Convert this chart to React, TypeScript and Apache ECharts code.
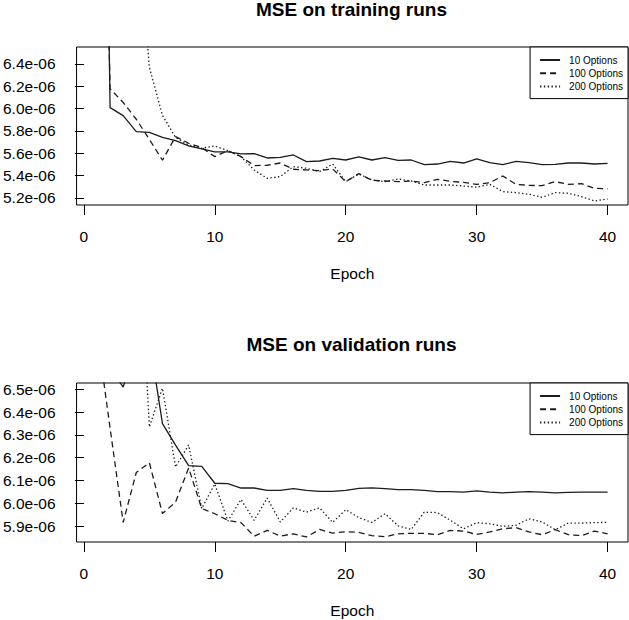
import React, { useEffect, useRef } from 'react';
import * as echarts from 'echarts';

// Epoch numbers (x values)
const epochs = [
  1, 2, 3, 4, 5, 6, 7, 8, 9, 10, 11, 12, 13, 14, 15, 16, 17, 18, 19, 20,
  21, 22, 23, 24, 25, 26, 27, 28, 29, 30, 31, 32, 33, 34, 35, 36, 37, 38, 39, 40,
];

const seriesNames = ['10 Options', '100 Options', '200 Options'];
const trainTitle = 'MSE on training runs';
const validTitle = 'MSE on validation runs';
const xName = 'Epoch';

// tick values (y in units of 1e-6)
const xTicks = [0, 10, 20, 30, 40];
const trainYTicks = [5.2, 5.4, 5.6, 5.8, 6.0, 6.2, 6.4];
const validYTicks = [5.9, 6.0, 6.1, 6.2, 6.3, 6.4, 6.5];

// MSE on training runs (units of 1e-6)
const train10 = [
  14.0, 6.009, 5.937, 5.794, 5.788, 5.743, 5.713, 5.666, 5.639, 5.612,
  5.612, 5.594, 5.597, 5.558, 5.564, 5.585, 5.525, 5.531, 5.555, 5.540,
  5.567, 5.540, 5.561, 5.537, 5.540, 5.499, 5.504, 5.528, 5.513, 5.549,
  5.516, 5.499, 5.528, 5.516, 5.499, 5.501, 5.513, 5.513, 5.504, 5.510,
];
const train100 = [
  11.5, 6.178, 6.055, 5.905, 5.725, 5.538, 5.750, 5.690, 5.651, 5.570,
  5.624, 5.570, 5.490, 5.493, 5.513, 5.457, 5.451, 5.445, 5.460, 5.346,
  5.418, 5.358, 5.352, 5.346, 5.352, 5.337, 5.367, 5.349, 5.340, 5.322,
  5.337, 5.397, 5.322, 5.313, 5.310, 5.346, 5.322, 5.328, 5.287, 5.281,
];
const train200 = [
  20.0, 15.0, 10.0, 7.87, 6.37, 5.940, 5.742, 5.675, 5.645, 5.666,
  5.624, 5.570, 5.451, 5.376, 5.391, 5.481, 5.466, 5.436, 5.504, 5.346,
  5.415, 5.361, 5.346, 5.370, 5.352, 5.316, 5.316, 5.316, 5.307, 5.296,
  5.322, 5.257, 5.248, 5.233, 5.206, 5.248, 5.242, 5.212, 5.173, 5.191,
];

// MSE on validation runs (units of 1e-6)
const valid10 = [
  7.20, 6.596, 6.510, 6.700, 6.720, 6.350, 6.255, 6.165, 6.162, 6.088,
  6.086, 6.067, 6.067, 6.057, 6.057, 6.064, 6.057, 6.052, 6.052, 6.057,
  6.065, 6.068, 6.064, 6.060, 6.060, 6.057, 6.051, 6.051, 6.049, 6.054,
  6.049, 6.046, 6.049, 6.051, 6.049, 6.046, 6.048, 6.049, 6.049, 6.049,
];
const valid100 = [
  6.750, 6.330, 5.916, 6.135, 6.178, 5.955, 6.005, 6.155, 5.977, 5.954,
  5.925, 5.915, 5.855, 5.881, 5.856, 5.866, 5.852, 5.885, 5.869, 5.875,
  5.872, 5.858, 5.853, 5.866, 5.868, 5.868, 5.862, 5.881, 5.878, 5.863,
  5.874, 5.888, 5.893, 5.874, 5.862, 5.884, 5.862, 5.858, 5.878, 5.866,
];
const valid200 = [
  8.50, 8.00, 7.80, 7.40, 6.335, 6.505, 6.159, 6.256, 5.977, 6.085,
  5.922, 6.017, 5.925, 6.023, 5.918, 5.980, 5.961, 5.980, 5.916, 5.972,
  5.937, 5.916, 5.954, 5.901, 5.885, 5.961, 5.959, 5.925, 5.888, 5.915,
  5.910, 5.899, 5.903, 5.932, 5.918, 5.884, 5.913, 5.913, 5.915, 5.916,
];

const FONT = 'Liberation Sans, Arial, Helvetica, sans-serif';
const LINE_COLOR = '#1c1c1c';
const lineTypes: any[] = ['solid', [6, 4], [1.4, 2.4]];

function pairs(vals: number[]) {
  return epochs.map((e, i) => [e, vals[i]]);
}

function makeXAxis(gridIndex: number) {
  return {
    gridIndex,
    type: 'value',
    min: -0.56,
    max: 41.56,
    axisLine: { show: false },
    splitLine: { show: false },
    axisTick: {
      show: true,
      customValues: xTicks,
      length: 10,
      lineStyle: { color: '#000', width: 1 },
    },
    axisLabel: {
      customValues: xTicks,
      margin: 23,
      fontSize: 15.5,
      color: '#000',
      fontFamily: FONT,
    },
    name: xName,
    nameLocation: 'middle',
    nameGap: 60,
    nameTextStyle: { fontSize: 15.5, color: '#000', fontFamily: FONT },
  };
}

function makeYAxis(gridIndex: number, min: number, max: number, ticks: number[]) {
  return {
    gridIndex,
    type: 'value',
    min,
    max,
    axisLine: { show: false },
    splitLine: { show: false },
    axisTick: {
      show: true,
      customValues: ticks,
      length: 9,
      lineStyle: { color: '#000', width: 1 },
    },
    axisLabel: {
      customValues: ticks,
      margin: 21,
      fontSize: 15.5,
      color: '#000',
      fontFamily: FONT,
      formatter: (v: number) => v.toFixed(1) + 'e-06',
    },
  };
}

function makeLegend(top: number) {
  return {
    data: seriesNames,
    orient: 'vertical',
    right: 1,
    top,
    padding: [8, 5, 7, 9],
    itemWidth: 20,
    itemHeight: 10,
    itemGap: 3.3,
    borderColor: '#000',
    borderWidth: 1,
    borderRadius: 0,
    backgroundColor: '#fff',
    selectedMode: false,
    itemStyle: {
      color: 'rgba(0,0,0,0)',
      borderColor: 'rgba(0,0,0,0)',
      borderWidth: 0,
      opacity: 0,
    },
    textStyle: { fontSize: 10, color: '#000', fontFamily: FONT, padding: [0, 0, 0, 4] },
  };
}

function makeSeries(name: string, vals: number[], idx: number, k: number) {
  return {
    type: 'line',
    name,
    xAxisIndex: idx,
    yAxisIndex: idx,
    data: pairs(vals),
    symbol: 'none',
    showSymbol: false,
    clip: true,
    lineStyle: { color: LINE_COLOR, width: 1.3, type: lineTypes[k] },
    itemStyle: { color: LINE_COLOR },
    emphasis: { disabled: true },
  };
}

export default function App() {
  const ref = useRef<HTMLDivElement>(null);
  useEffect(() => {
    if (!ref.current) return;
    const chart = echarts.init(ref.current, null, { renderer: 'svg' });
    const option: any = {
      animation: false,
      backgroundColor: '#fff',
      title: [
        {
          text: trainTitle,
          left: 351.5,
          top: 0,
          textAlign: 'center',
          padding: 0,
          textStyle: { fontSize: 19, fontWeight: 'bold', color: '#000', fontFamily: FONT },
        },
        {
          text: validTitle,
          left: 351.5,
          top: 335,
          textAlign: 'center',
          padding: 0,
          textStyle: { fontSize: 19, fontWeight: 'bold', color: '#000', fontFamily: FONT },
        },
      ],
      legend: [makeLegend(47), makeLegend(383)],
      grid: [
        { left: 75, top: 47, width: 553, height: 158, show: true, borderColor: '#000', borderWidth: 1, backgroundColor: 'transparent' },
        { left: 75, top: 383, width: 553, height: 159, show: true, borderColor: '#000', borderWidth: 1, backgroundColor: 'transparent' },
      ],
      xAxis: [makeXAxis(0), makeXAxis(1)],
      yAxis: [
        makeYAxis(0, 5.137, 6.552, trainYTicks),
        makeYAxis(1, 5.83, 6.528, validYTicks),
      ],
      series: [
        makeSeries(seriesNames[0], train10, 0, 0),
        makeSeries(seriesNames[1], train100, 0, 1),
        makeSeries(seriesNames[2], train200, 0, 2),
        makeSeries(seriesNames[0], valid10, 1, 0),
        makeSeries(seriesNames[1], valid100, 1, 1),
        makeSeries(seriesNames[2], valid200, 1, 2),
      ],
    };
    chart.setOption(option);
    return () => chart.dispose();
  }, []);
  return (
    <div
      ref={ref}
      style={{ position: 'fixed', left: 0, top: 0, width: 629, height: 620, background: '#fff' }}
    />
  );
}
